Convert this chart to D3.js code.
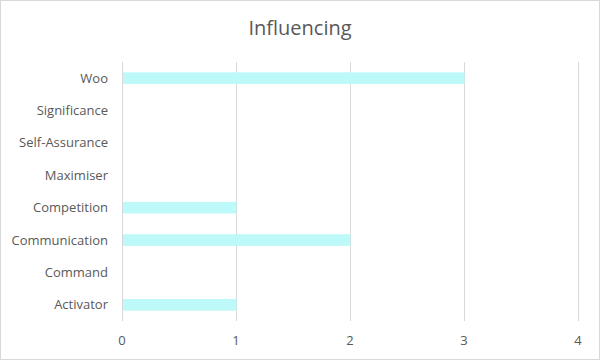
<!DOCTYPE html>
<html>
<head>
<meta charset="utf-8">
<script src="https://cdn.jsdelivr.net/npm/d3@7"></script>
<style>
  body { margin: 0; background: #fff; }
  svg { font-family: "Open Sans", "Noto Sans", sans-serif; }
</style>
</head>
<body>
<svg width="600" height="360"></svg>
<script>
const categories = ["Woo", "Significance", "Self-Assurance", "Maximiser", "Competition", "Communication", "Command", "Activator"];
const values = [3, 0, 0, 0, 1, 2, 0, 1];
const xTicks = [0, 1, 2, 3, 4];

let svg = d3.select('svg');

// chart border
svg.append("rect")
  .attr("x", 0.5).attr("y", 0.5)
  .attr("width", 599).attr("height", 359)
  .attr("fill", "#fff")
  .attr("stroke", "#d9d9d9");

svg.append("text")
  .attr("x", 300).attr("y", 35)
  .attr("text-anchor", "middle")
  .attr("font-size", 20)
  .attr("fill", "#595959")
  .text("Influencing");

const xScale = d3.scaleLinear().domain([0, 4]).range([122, 578]);
const yScale = d3.scaleBand().domain(categories).range([62, 321])
  .paddingInner(0.64).paddingOuter(0.32);

// gridlines
svg.append("g").selectAll("line").data(xTicks)
  .enter().append("line")
  .attr("x1", d => xScale(d) + 0.5).attr("x2", d => xScale(d) + 0.5)
  .attr("y1", 62).attr("y2", 321)
  .attr("stroke", "#d9d9d9");

// bars
svg.append("g").selectAll("rect").data(values)
  .enter().append("rect")
  .attr("x", xScale(0) + 1)
  .attr("y", (d, i) => yScale(categories[i]))
  .attr("width", d => Math.max(0, xScale(d) - xScale(0) - 0.5))
  .attr("height", yScale.bandwidth())
  .attr("fill", "#bdf9f9");

// y labels
svg.append("g").selectAll("text").data(categories)
  .enter().append("text")
  .attr("x", 108)
  .attr("y", d => yScale(d) + yScale.bandwidth() / 2)
  .attr("dy", "0.35em")
  .attr("text-anchor", "end")
  .attr("font-size", 13)
  .attr("fill", "#595959")
  .text(d => d);

// x labels
svg.append("g").selectAll("text").data(xTicks)
  .enter().append("text")
  .attr("x", d => xScale(d))
  .attr("y", 345)
  .attr("text-anchor", "middle")
  .attr("font-size", 13)
  .attr("fill", "#595959")
  .text(d => d);
</script>
</body>
</html>
